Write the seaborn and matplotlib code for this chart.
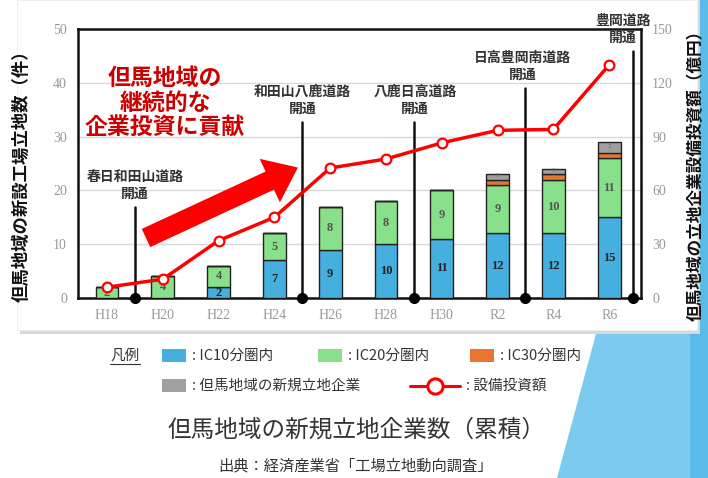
import numpy as np
import pandas as pd
import seaborn as sns
import matplotlib.pyplot as plt
from matplotlib.patches import FancyArrow, Rectangle, Polygon
from matplotlib.lines import Line2D
from matplotlib.transforms import IdentityTransform

sns.set_theme(style='white')
plt.rcParams['font.family'] = ['Noto Sans CJK JP', 'DejaVu Sans']

# data
years = ['H18', 'H20', 'H22', 'H24', 'H26', 'H28', 'H30', 'R2', 'R4', 'R6']
ic10 = [0, 0, 2, 7, 9, 10, 11, 12, 12, 15]
ic20 = [2, 4, 4, 5, 8, 8, 9, 9, 10, 11]
ic30 = [0, 0, 0, 0, 0, 0, 0, 1, 1, 1]
tajima = [0, 0, 0, 0, 0, 0, 0, 1, 1, 2]
invest = [6, 10.5, 32, 45, 72.5, 77.5, 86.5, 93.5, 94, 130]

roads = ['春日和田山道路\n開通', '和田山八鹿道路\n開通', '八鹿日高道路\n開通',
         '日高豊岡南道路\n開通', '豊岡道路\n開通']
road_x = [0.5, 3.5, 5.5, 7.5, 9.43]
road_top = [16.9, 32.7, 32.7, 39.0, 45.9]
road_label_x = [0.5, 3.5, 5.52, 7.45, 9.25]

c_blue = '#45b0e0'
c_green = '#88e08a'
c_orange = '#e8762f'
c_gray = '#a0a0a0'

W, H = 708, 478
fig = plt.figure(figsize=(W / 100, H / 100), dpi=100)
fig.patch.set_facecolor('white')


def px(x, y):
    return (x, H - y)


# background decoration
fig.add_artist(Polygon([px(597, 330), px(708, 330), px(708, 478), px(557, 478)],
                       closed=True, transform=IdentityTransform(),
                       facecolor='#7ccbef', edgecolor='none', zorder=0))
fig.add_artist(Rectangle(px(690, 478), 18, 478, transform=IdentityTransform(),
                         facecolor='#5bbbe8', edgecolor='none', zorder=0))
fig.add_artist(Rectangle(px(20, 334), 680, 334, transform=IdentityTransform(),
                         facecolor='#d8d8d8', edgecolor='none', zorder=0.5))
fig.add_artist(Rectangle(px(17, 330), 680, 330, transform=IdentityTransform(),
                         facecolor='white', edgecolor='#eeeeee', lw=0.8, zorder=0.6))

ax = fig.add_axes([78 / W, 1 - 298 / H, (641 - 78) / W, (298 - 29) / H])
ax.set_zorder(2)
ax.patch.set_alpha(0)

df = pd.DataFrame({'year': years, 'ic10': ic10, 'ic20': ic20,
                   'ic30': ic30, 'tajima': tajima})
bottoms = np.zeros(len(years))
# (column, fill, label colour, label size, label offset)
segs = [('ic10', c_blue, '#222222', 9, 0), ('ic20', c_green, '#555555', 9, 0),
        ('ic30', c_orange, '#888888', 5, -0.15), ('tajima', c_gray, '#777777', 5, 0.25)]
for col, color, tcolor, fs, off in segs:
    vals = df[col].to_numpy(dtype=float)
    sns.barplot(data=df, x='year', y=col, bottom=bottoms, color=color,
                width=0.41, edgecolor='#222222', linewidth=1.0, saturation=1,
                ax=ax, zorder=3)
    for i, v in enumerate(vals):
        if v > 0:
            ax.text(i, bottoms[i] + v / 2 + off, f'{int(v)}', ha='center', va='center',
                    family='Liberation Serif', fontweight='bold', fontsize=fs,
                    color=tcolor, zorder=5)
    bottoms = bottoms + vals

ax.set_xlim(-0.52, 9.57)
ax.set_ylim(0, 50)
ax.set_yticks(range(0, 51, 10))
ax.yaxis.grid(True, color='#d9d9d9', lw=1)
ax.set_axisbelow(True)
ax.set_xlabel('')
ax.set_ylabel('但馬地域の新設工場立地数（件）', fontsize=12.5, fontweight='bold', color='#111111')
ax.yaxis.set_label_coords(-0.085, 0.47)
ax.tick_params(axis='both', length=0, labelsize=10, colors='#999999', pad=8)
for lab in ax.get_xticklabels() + ax.get_yticklabels():
    lab.set_family('Liberation Serif')
for s in ax.spines.values():
    s.set_color('#111111')
    s.set_linewidth(1.8)

# road openings
for x, top, lx, name in zip(road_x, road_top, road_label_x, roads):
    ax.plot([x, x], [0, top], color='#111111', lw=1.8, zorder=4, clip_on=False)
    ax.plot([x], [0], 'o', color='black', ms=7, zorder=6, clip_on=False)
    ax.text(lx, top + 1.2, name, ha='center', va='bottom', fontsize=10,
            fontweight='bold', color='#333333', linespacing=1.25, zorder=6)

ax2 = ax.twinx()
ax2.set_zorder(3)
sns.lineplot(x=np.arange(len(years)), y=invest, ax=ax2, color='#ff0000', lw=2.5,
             marker='o', markersize=7, markerfacecolor='white',
             markeredgecolor='#ff0000', markeredgewidth=1.6, zorder=5)
ax2.set_ylim(0, 150)
ax2.set_yticks(range(0, 151, 30))
ax2.set_ylabel('但馬地域の立地企業設備投資額（億円）', fontsize=12, fontweight='bold',
               color='#111111')
ax2.yaxis.set_label_coords(1.082, 0.47)
ax2.tick_params(axis='y', length=0, labelsize=10, colors='#999999', pad=8)
for lab in ax2.get_yticklabels():
    lab.set_family('Liberation Serif')
for s in ax2.spines.values():
    s.set_visible(False)
ax2.grid(False)

# message text and arrow
fig.text(165 / W, 1 - 103 / H, '但馬地域の\n継続的な\n企業投資に貢献', ha='center',
         va='center', fontsize=16.5, fontweight='bold', color='#cc0000',
         linespacing=1.1, zorder=10)
fig.add_artist(FancyArrow(146, H - 238, 151 - 30 * 0.907, 70 - 30 * 0.42, width=20,
                          head_width=48, head_length=31, length_includes_head=False,
                          transform=IdentityTransform(), facecolor='#ff0000',
                          edgecolor='none', zorder=10))

# legend
fig.text(110 / W, 1 - 356 / H, '凡例', fontsize=10.5, color='#333333', va='center')
fig.add_artist(Line2D([110, 140], [H - 364, H - 364], color='#333333', lw=0.8,
                      transform=IdentityTransform()))
leg = [(162, 356, c_blue, ': IC10分圏内'), (318, 356, c_green, ': IC20分圏内'),
       (470, 356, c_orange, ': IC30分圏内'), (162, 386, c_gray, ': 但馬地域の新規立地企業')]
for x, y, color, label in leg:
    fig.add_artist(Rectangle((x, H - y - 6), 24, 13, transform=IdentityTransform(),
                             facecolor=color, edgecolor='none'))
    fig.text((x + 30) / W, 1 - y / H, label, fontsize=10.5, color='#333333', va='center')
fig.add_artist(Line2D([410, 460], [H - 386, H - 386], color='#ff0000', lw=2.2,
                      transform=IdentityTransform()))
fig.add_artist(Line2D([435], [H - 386], color='#ff0000', marker='o', markersize=11,
                      markerfacecolor='white', markeredgewidth=2.2,
                      transform=IdentityTransform()))
fig.text(466 / W, 1 - 386 / H, ': 設備投資額', fontsize=10.5, color='#333333', va='center')

fig.text(356 / W, 1 - 430 / H, '但馬地域の新規立地企業数（累積）', ha='center', va='center',
         fontsize=17, color='#333333')
fig.text(356 / W, 1 - 466 / H, '出典：経済産業省「工場立地動向調査」', ha='center',
         va='center', fontsize=11, color='#333333')

fig.savefig('out.png', dpi=100)
